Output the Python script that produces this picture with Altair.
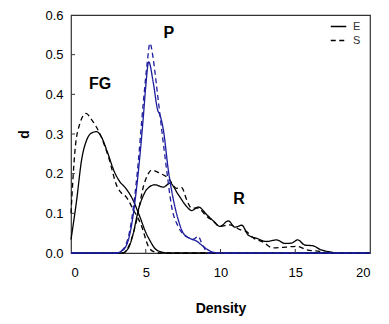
import altair as alt
import pandas as pd

# ---- data ----
fg_e_x = [0, 0.38, 0.71, 1.05, 1.4, 1.7, 2.0, 2.4, 2.9, 3.3, 3.6, 4.06, 4.6, 5.0, 5.3, 5.6, 6.0, 6.5, 20]
fg_e_y = [0.034, 0.134, 0.235, 0.285, 0.303, 0.306, 0.295, 0.258, 0.205, 0.178, 0.166, 0.14, 0.092, 0.052, 0.03, 0.012, 0.003, 0.0, 0.0]

fg_s_x = [0, 0.27, 0.6, 1.0, 1.4, 1.94, 2.5, 3.08, 3.4, 3.65, 4.17, 4.73, 5.17, 5.5, 6.0, 20]
fg_s_y = [0.1, 0.26, 0.327, 0.352, 0.335, 0.3, 0.243, 0.168, 0.15, 0.143, 0.109, 0.067, 0.017, 0.004, 0.0, 0.0]

p_e_x = [0, 3.0, 3.5, 3.95, 4.4, 4.84, 5.0, 5.2, 5.5, 5.8, 5.95, 6.18, 6.51, 6.85, 7.18, 7.51, 8.0, 8.4, 8.8, 9.3, 9.8, 20]
p_e_y = [0, 0.0, 0.008, 0.05, 0.168, 0.344, 0.42, 0.482, 0.43, 0.36, 0.348, 0.31, 0.209, 0.134, 0.083, 0.05, 0.036, 0.03, 0.018, 0.005, 0.0, 0.0]

p_s_x = [0, 3.0, 3.5, 3.95, 4.4, 4.84, 5.1, 5.28, 5.5, 5.73, 6.07, 6.4, 6.73, 7.18, 7.74, 8.2, 8.5, 8.8, 9.2, 20]
p_s_y = [0, 0.0, 0.01, 0.06, 0.19, 0.38, 0.48, 0.529, 0.49, 0.419, 0.31, 0.209, 0.117, 0.066, 0.041, 0.035, 0.042, 0.02, 0.0, 0.0]

r_e_x = [0, 3.4, 3.8, 4.17, 4.5, 4.84, 5.06, 5.61, 6.18, 6.62, 7.18, 7.74, 8.07, 8.52, 9.07, 9.52, 9.97, 10.52, 10.97,
         11.42, 11.86, 12.42, 13.09, 13.76, 14.31, 14.75, 15.16, 15.65, 16.2, 16.66, 17.3, 18.0, 20]
r_e_y = [0, 0.0, 0.01, 0.05, 0.108, 0.145, 0.16, 0.172, 0.166, 0.176, 0.147, 0.117, 0.107, 0.116, 0.097, 0.081, 0.067,
         0.081, 0.065, 0.07, 0.045, 0.037, 0.029, 0.033, 0.024, 0.025, 0.033, 0.02, 0.018, 0.009, 0.003, 0.0, 0.0]

r_s_x = [0, 3.5, 3.9, 4.39, 4.84, 5.1, 5.4, 5.95, 6.5, 7.07, 7.4, 7.74, 8.07, 8.52, 9.0, 9.52, 9.97, 10.6, 11.3,
         11.7, 12.2, 12.86, 13.5, 14.4, 15.1, 15.76, 16.65, 17.3, 20]
r_s_y = [0, 0.0, 0.02, 0.083, 0.167, 0.195, 0.209, 0.201, 0.189, 0.163, 0.165, 0.134, 0.113, 0.113, 0.095, 0.08,
         0.067, 0.071, 0.059, 0.055, 0.038, 0.027, 0.013, 0.015, 0.017, 0.008, 0.004, 0.0, 0.0]

groups = ["FG", "P", "R"]
methods = ["E", "S"]
label_x = [1.94, 6.55, 11.24]
label_y = [0.426, 0.555, 0.136]
x_ticks = [5, 10, 15]
y_ticks = [0.1, 0.2, 0.3, 0.4, 0.5]
x_labels = [0, 5, 10, 15, 20]
y_labels = [0, 0.1, 0.2, 0.3, 0.4, 0.5, 0.6]

series = {
    ("FG", "E"): (fg_e_x, fg_e_y),
    ("FG", "S"): (fg_s_x, fg_s_y),
    ("P", "E"): (p_e_x, p_e_y),
    ("P", "S"): (p_s_x, p_s_y),
    ("R", "E"): (r_e_x, r_e_y),
    ("R", "S"): (r_s_x, r_s_y),
}
rows = []
for (g, m), (xs, ys) in series.items():
    for i, (a, b) in enumerate(zip(xs, ys)):
        rows.append({"x": a, "y": b, "group": g, "method": m, "series": g + m, "i": i})
df = pd.DataFrame(rows)

W, H = 299, 238
FONT = "Liberation Sans"

xscale = alt.Scale(domain=[0, 20], nice=False, zero=False)
yscale = alt.Scale(domain=[0, 0.6], nice=False)
dash_scale = alt.Scale(domain=methods, range=[[1, 0], [5, 3.5]])
color_scale = alt.Scale(domain=groups, range=["#000000", "#1c1c9c", "#000000"])

xaxis = alt.Axis(title="Density", values=x_labels, format="d", labelOverlap=False,
                 labelPadding=13, titlePadding=22)
yaxis = alt.Axis(title="d", values=y_labels, format=".1f", labelOverlap=False,
                 labelPadding=8, titlePadding=13)


def xenc():
    return alt.X("x:Q", scale=xscale, axis=xaxis)


def yenc():
    return alt.Y("y:Q", scale=yscale, axis=yaxis)


legend = alt.Legend(title=None, orient="none", legendX=259, legendY=3, symbolType="stroke",
                    symbolSize=240, symbolStrokeWidth=1.3, symbolStrokeColor="black",
                    labelFontSize=11, labelColor="#333333", labelFont=FONT, labelOffset=6,
                    rowPadding=-3, padding=0)

base = alt.Chart(df)

lines_black = base.transform_filter(alt.datum.group != "P").mark_line(
    interpolate="monotone", strokeWidth=1.3).encode(
    x=xenc(), y=yenc(),
    color=alt.Color("group:N", scale=color_scale, legend=None),
    strokeDash=alt.StrokeDash("method:N", scale=dash_scale, legend=legend),
    detail="series:N", order="i:Q")

lines_blue = base.transform_filter(alt.datum.group == "P").mark_line(
    interpolate="monotone", strokeWidth=1.3).encode(
    x=xenc(), y=yenc(),
    color=alt.Color("group:N", scale=color_scale, legend=None),
    strokeDash=alt.StrokeDash("method:N", scale=dash_scale, legend=legend),
    detail="series:N", order="i:Q")

labels_df = pd.DataFrame({"x": label_x, "y": label_y, "t": groups})
labels = alt.Chart(labels_df).mark_text(font=FONT, fontSize=16, fontWeight="bold", color="black").encode(
    x=xenc(), y=yenc(), text="t:N")

xt = alt.Chart(pd.DataFrame({"x": x_ticks})).mark_rule(color="#333333", strokeWidth=1).encode(
    x=xenc(), y=alt.value(H), y2=alt.value(H - 4))
yt = alt.Chart(pd.DataFrame({"y": y_ticks})).mark_rule(color="#333333", strokeWidth=1).encode(
    y=yenc(), x=alt.value(0), x2=alt.value(4))

chart = alt.layer(lines_black, lines_blue, labels, xt, yt).properties(
    width=W, height=H,
    autosize=alt.AutoSizeParams(type="none"),
    padding={"left": 63, "top": 7, "right": 11, "bottom": 63},
).configure(font=FONT).configure_view(
    stroke="#333333", strokeWidth=1.2
).configure_axis(
    grid=False, ticks=False, domain=False,
    labelFont=FONT, labelFontSize=13, labelColor="black",
    titleFont=FONT, titleFontSize=14, titleFontWeight="bold", titleColor="black",
)

chart.save("out.html", embed_options={"renderer": "svg", "actions": False})
